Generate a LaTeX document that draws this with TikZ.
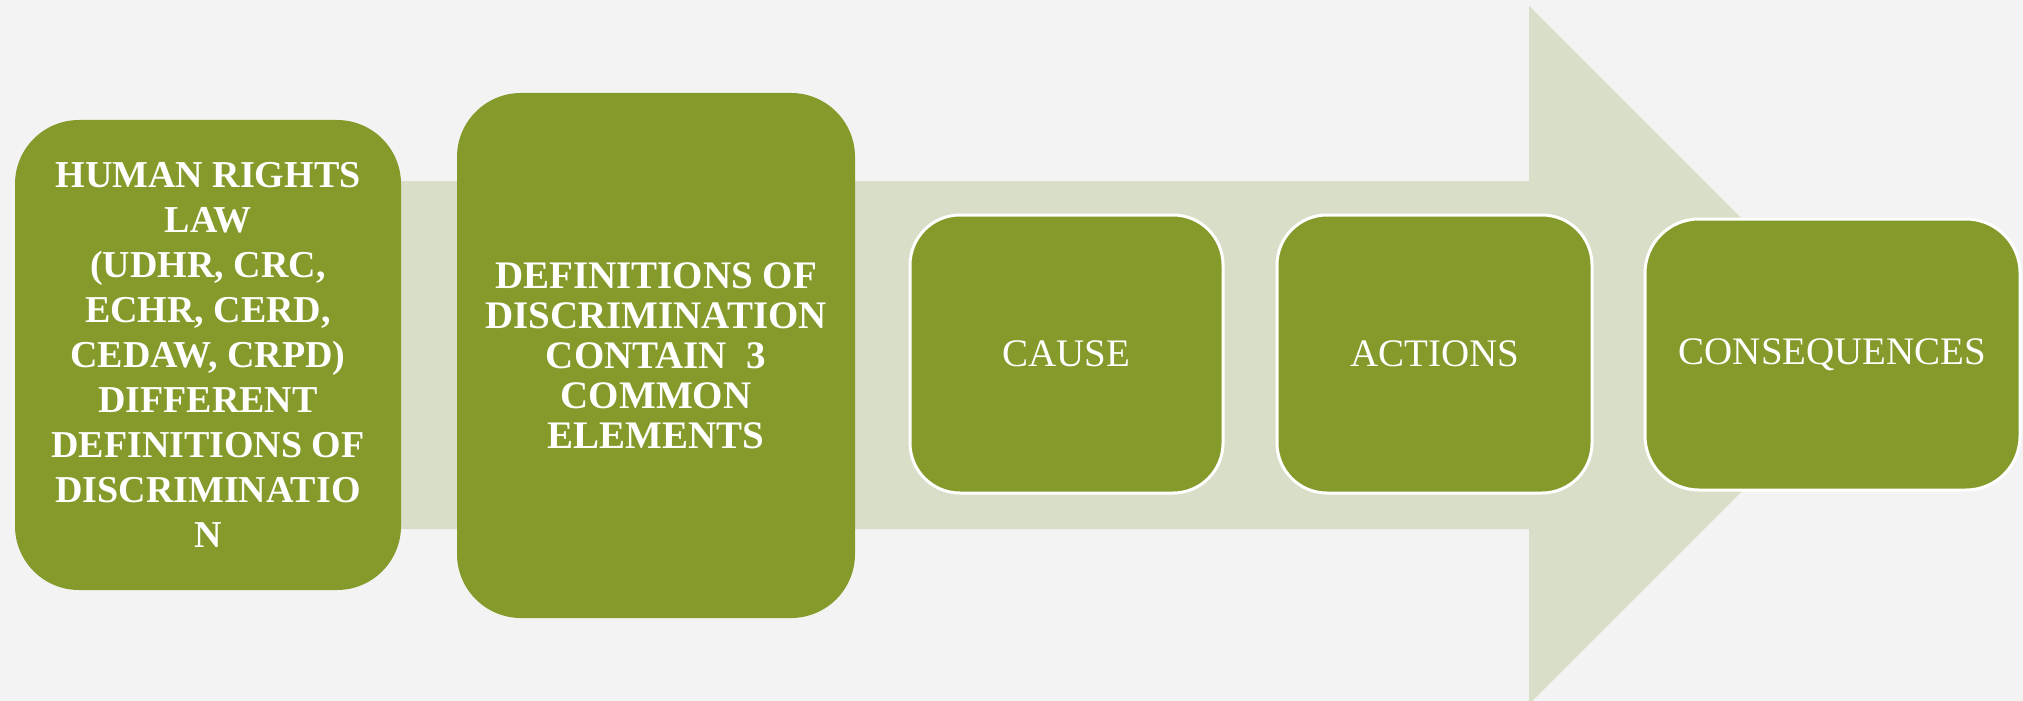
\documentclass[tikz,border=0pt]{standalone}
\usepackage{fontspec}
\setmainfont{Liberation Serif}
\definecolor{bgc}{HTML}{F3F3F3}
\definecolor{arrowc}{HTML}{D9DEC9}
\definecolor{boxc}{HTML}{849A2A}
\begin{document}
\begin{tikzpicture}[x=0.5pt,y=-0.5pt,
  bigbox/.style={fill=boxc,text=white,rounded corners=32pt,align=center,inner sep=0pt,
    font=\fontsize{19.5}{20}\selectfont\bfseries},
  smallbox/.style={fill=boxc,draw=white,line width=1.5pt,text=white,rounded corners=25pt,
    align=center,inner sep=0pt,font=\fontsize{19.5}{20}\selectfont},
  bandshape/.style={fill=arrowc,draw=none}]
\fill[bgc] (0,0) rectangle (2023,701);
\useasboundingbox (0,0) rectangle (2023,701);
% big arrow
\fill[arrowc] (20,181) -- (1529,181) -- (1529,6) -- (1878,355) -- (1529,704) -- (1529,529) -- (20,529) -- cycle;
% boxes
\node[bigbox,minimum width=193pt,minimum height=235pt,
  font=\fontsize{19}{22.5}\selectfont\bfseries] (law) at (208,355)
  {HUMAN RIGHTS\\LAW\\(UDHR, CRC,\\ECHR, CERD,\\CEDAW, CRPD)\\DIFFERENT\\DEFINITIONS OF\\DISCRIMINATIO\\N};
\node[bigbox,minimum width=199pt,minimum height=262.5pt] (defs) at (656,355.5)
  {DEFINITIONS OF\\DISCRIMINATION\\CONTAIN~~3\\COMMON\\ELEMENTS};
\node[smallbox,minimum width=156.5pt,minimum height=139pt] (cause) at (1066.5,354) {CAUSE};
\node[smallbox,minimum width=157.5pt,minimum height=139pt] (actions) at (1434.5,354) {ACTIONS};
\node[smallbox,minimum width=187.5pt,minimum height=135.5pt,rounded corners=27pt] (cons) at (1832.5,354.5) {CONSEQUENCES};
\end{tikzpicture}
\end{document}
